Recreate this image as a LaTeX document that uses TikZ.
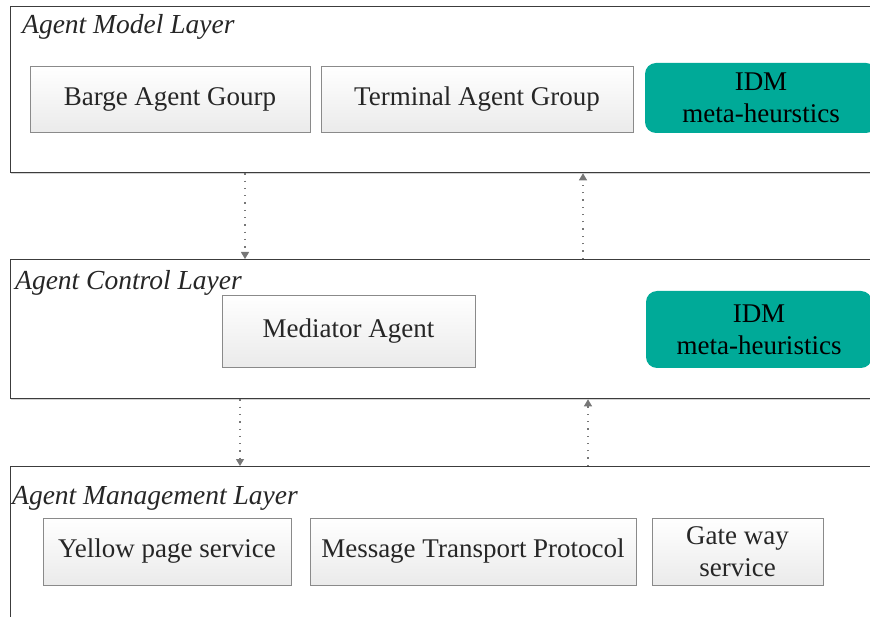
\documentclass[tikz,border=0pt]{standalone}
\usepackage{fontspec}
\setmainfont{Liberation Serif}
\usetikzlibrary{arrows.meta,shadows}
\definecolor{teal1}{HTML}{00AA98}
\definecolor{txt}{HTML}{262626}
\definecolor{boxline}{HTML}{8A8A8A}
\definecolor{layline}{HTML}{3C3C3C}
\definecolor{arr}{HTML}{777777}
\tikzset{
  layer/.style={draw=layline, line width=1.3pt, fill=white, inner sep=0pt, anchor=north west,
    drop shadow={shadow xshift=0pt, shadow yshift=-1.5pt, opacity=0.35, fill=gray}},
  agbox/.style={draw=boxline, line width=0.8pt, top color=white, bottom color=black!8,
    inner sep=0pt, text=txt, font=\fontsize{27}{32}\selectfont, align=center,
    drop shadow={shadow xshift=1.2pt, shadow yshift=-1.2pt, opacity=0.25, fill=gray}},
  idm/.style={fill=teal1, rounded corners=11pt, inner sep=0pt, text=black,
    font=\fontsize{27}{32}\selectfont, align=center},
  ltitle/.style={anchor=base west, inner sep=0pt, text=txt, font=\fontsize{27.5}{30}\selectfont\itshape},
  flow/.style={arr, line width=1.1pt, dash pattern=on 1.3pt off 6pt,
    -{Triangle[length=7pt,width=8pt]}}
}
\begin{document}
\begin{tikzpicture}[x=1pt,y=-1pt]
\useasboundingbox (0,0) rectangle (870,617);
\clip (0,0) rectangle (870,617);
% layers
\node[layer, minimum width=900pt, minimum height=166pt] (l1) at (10,6) {};
\node[layer, minimum width=900pt, minimum height=139pt] (l2) at (10,259) {};
\node[layer, minimum width=900pt, minimum height=180pt] (l3) at (10,466) {};
% titles
\node[ltitle] (t1) at (22,34) {Agent Model Layer};
\node[ltitle] (t2) at (15,290) {Agent Control Layer};
\node[ltitle] (t3) at (12,504) {Agent Management Layer};
% layer 1
\node[agbox, minimum width=280pt, minimum height=66pt] (barge) at (170,99) {Barge Agent Gourp};
\node[agbox, minimum width=312pt, minimum height=66pt] (term) at (477,99) {Terminal Agent Group};
\node[idm, minimum width=232pt, minimum height=70pt] (idm1) at (761,98) {IDM\\meta-heurstics};
% layer 2
\node[agbox, minimum width=253pt, minimum height=72pt] (med) at (348.5,331) {Mediator Agent};
\node[idm, minimum width=226pt, minimum height=77pt] (idm2) at (759,329.5) {IDM\\meta-heuristics};
% layer 3
\node[agbox, minimum width=248pt, minimum height=67pt] (yp) at (167,551.5) {Yellow page service};
\node[agbox, minimum width=326pt, minimum height=67pt] (mtp) at (473,551.5) {Message Transport Protocol};
\node[agbox, minimum width=171pt, minimum height=67pt] (gw) at (737.5,551.5) {Gate way\\service};
% connectors
\coordinate (c1) at (245,0);
\coordinate (c2) at (583,0);
\coordinate (c3) at (240,0);
\coordinate (c4) at (588,0);
\draw[flow] (l1.south -| c1) -- (l2.north -| c1);
\draw[flow] (l2.north -| c2) -- (l1.south -| c2);
\draw[flow] (l2.south -| c3) -- (l3.north -| c3);
\draw[flow] (l3.north -| c4) -- (l2.south -| c4);
\end{tikzpicture}
\end{document}
